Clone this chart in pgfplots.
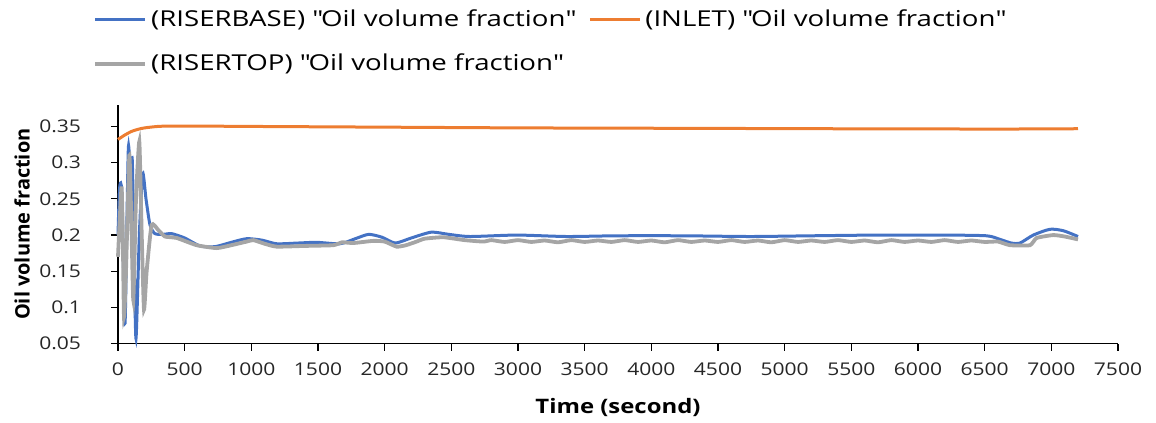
\documentclass[border=0pt]{standalone}
\usepackage{pgfplots}
\pgfplotsset{compat=1.18}
\usepackage{fontspec}
\setmainfont{Open Sans}[FakeStretch=1.2]
\newfontfamily\ylabfont{Open Sans}
\newfontfamily\legfont{Open Sans}[FakeStretch=1.26]
\definecolor{xlblue}{HTML}{4472C4}
\definecolor{xlorange}{HTML}{ED7D31}
\definecolor{xlgray}{HTML}{A5A5A5}
\newcommand{\q}{\textquotedbl}
\begin{document}
\begin{tikzpicture}
\begin{axis}[
  at={(0,0)}, anchor=south west,
  scale only axis,
  width=500bp, height=119.5bp,
  xmin=0, xmax=7500, ymin=0.05, ymax=0.38,
  xtick={0,500,...,7500},
  ytick={0.05,0.1,0.15,0.2,0.25,0.3,0.35},
  scaled y ticks=false,
  /pgf/number format/assume math mode=true,
  /pgf/number format/1000 sep={},
  yticklabel style={/pgf/number format/fixed,/pgf/number format/precision=2, xshift=-11.5bp},
  xticklabel style={yshift=-2.5bp},
  axis x line*=bottom, axis y line*=left,
  axis line style={black, line width=0.6pt},
  tick align=outside,
  major tick length=3.5bp,
  tick style={black, line width=0.6pt},
  ticklabel style={font=\fontsize{8.8}{10}\selectfont, text=black!85},
  xlabel={\textbf{Time (second)}},
  ylabel={\ylabfont\textbf{Oil volume fraction}},
  xlabel style={font=\fontsize{11.8}{13}\selectfont},
  ylabel style={font=\fontsize{13.5}{15}\selectfont},
  every axis x label/.style={at={(axis description cs:0.5,-0.2649)}, anchor=center},
  every axis y label/.style={at={(axis description cs:-0.096,0.5)}, anchor=center, rotate=90},
  legend columns=2,
  legend style={draw=none, fill=none, at={(rel axis cs:0,1)}, anchor=north west,
    xshift=-12.5bp, yshift=49.8bp, font=\legfont\fontsize{11}{13}\selectfont,
    /tikz/every even column/.append style={column sep=5bp},
    row sep=8.5bp, inner sep=0pt},
  legend cell align=left,
  legend image code/.code={\draw[#1] (0bp,0bp) -- (25bp,0bp);},
  clip=false,
]
\addplot[xlblue, line width=1.5bp, smooth, tension=0.4] coordinates {
(0,0.20)(10,0.26)(20,0.272)(30,0.25)(52,0.078)(65,0.20)(78,0.322)(92,0.29)(107,0.304)
(120,0.18)(135,0.057)(160,0.20)(185,0.285)(210,0.25)(240,0.214)(277,0.202)(340,0.201)
(402,0.202)(500,0.196)(615,0.185)(727,0.184)(850,0.19)(965,0.195)(1080,0.193)(1190,0.188)
(1350,0.189)(1490,0.190)(1665,0.188)(1780,0.195)(1880,0.201)(1980,0.197)(2080,0.189)
(2200,0.196)(2350,0.204)(2480,0.201)(2640,0.198)(2990,0.200)(3365,0.198)(3740,0.199)
(4240,0.199)(4740,0.198)(5200,0.199)(5690,0.200)(6190,0.200)(6515,0.199)(6615,0.194)
(6700,0.189)(6765,0.189)(6865,0.200)(6990,0.208)(7090,0.206)(7200,0.198)};
\addlegendentry{(RISERBASE) \q Oil volume fraction\q}
\addplot[xlorange, line width=1.5bp, smooth] coordinates {
(0,0.332)(50,0.338)(100,0.343)(150,0.346)(200,0.348)(300,0.350)(400,0.3505)(600,0.3505)
(1000,0.350)(2000,0.349)(3000,0.348)(4000,0.3475)(5000,0.347)(6000,0.3465)(7000,0.3465)(7200,0.347)};
\addlegendentry{(INLET) \q Oil volume fraction\q}
\addplot[xlgray, line width=1.9bp, smooth, tension=0.3] coordinates {
(0,0.17)(10,0.21)(27,0.267)(36,0.20)(45,0.087)(60,0.15)(85,0.31)(100,0.22)(115,0.11)
(135,0.25)(160,0.329)(178,0.20)(195,0.097)(215,0.15)(252,0.214)(302,0.207)(352,0.198)
(440,0.196)(590,0.186)(740,0.182)(850,0.186)(965,0.191)(1015,0.193)(1100,0.188)(1190,0.184)
(1400,0.185)(1615,0.186)(1680,0.190)(1765,0.189)(1915,0.192)(2000,0.191)(2090,0.184)
(2160,0.186)(2240,0.191)(2300,0.195)(2440,0.197)(2600,0.193)(2740,0.191)
(2800,0.193)(2900,0.1905)(3000,0.193)(3100,0.1905)(3200,0.1925)(3300,0.190)(3400,0.193)
(3500,0.1905)(3600,0.1925)(3700,0.1905)(3800,0.193)(3900,0.1905)(4000,0.1925)(4100,0.190)
(4200,0.193)(4300,0.1905)(4400,0.1925)(4500,0.1905)(4600,0.193)(4700,0.1905)(4800,0.1925)
(4900,0.190)(5000,0.193)(5100,0.1905)(5200,0.1925)(5300,0.1905)(5400,0.193)(5500,0.1905)
(5600,0.1925)(5700,0.190)(5800,0.193)(5900,0.1905)(6000,0.1925)(6100,0.1905)(6200,0.193)
(6300,0.1905)(6400,0.1925)(6500,0.1905)(6600,0.191)(6690,0.186)(6840,0.186)(6890,0.196)
(7015,0.200)(7100,0.198)(7200,0.194)};
\addlegendentry{(RISERTOP) \q Oil volume fraction\q}
\end{axis}
\pgfresetboundingbox
\path[use as bounding box] (-59bp,-39.65bp) rectangle (519bp,171.85bp);
\end{tikzpicture}
\end{document}
